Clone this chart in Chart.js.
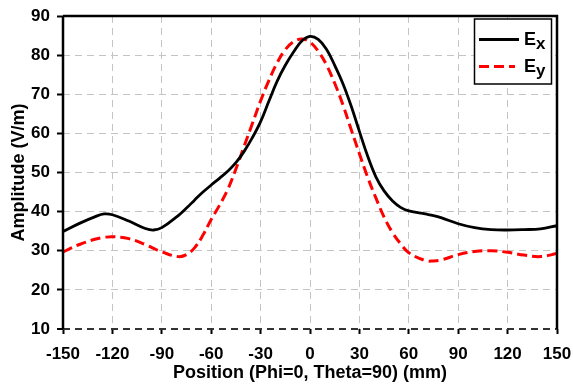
<!DOCTYPE html>
<html>
<head>
<meta charset="utf-8">
<script src="https://cdn.jsdelivr.net/npm/chart.js@4"></script>
<style>
html,body{margin:0;padding:0;background:#fff;}
#wrap{width:573px;height:384px;}
</style>
</head>
<body>
<div id="wrap"><canvas id="c" width="573" height="384"></canvas></div>
<script>
const positions = [-150,-140,-130,-125,-120,-110,-100,-95,-90,-80,-75,-70,-65,-60,-55,-50,-45,-40,-35,-30,-25,-20,-15,-10,-5,0,5,10,15,20,25,30,35,40,45,50,55,60,70,75,80,90,100,110,120,130,140,150];
const exValues = [34.9,37.0,38.8,39.4,39.2,37.6,35.7,35.3,35.9,39.0,40.9,43.0,45.0,46.8,48.5,50.3,52.5,55.4,58.9,63.0,68.2,73.3,77.4,80.8,83.6,84.8,84.0,81.5,77.4,72.7,67.0,60.5,54.2,48.9,45.3,42.8,41.1,40.2,39.4,39.0,38.4,36.9,35.9,35.4,35.3,35.4,35.6,36.4];
const eyValues = [29.7,31.6,33.0,33.4,33.6,33.1,31.6,30.6,29.7,28.5,29.0,30.8,34.0,38.0,41.6,45.6,50.9,56.7,62.5,68.3,73.5,78.0,81.4,83.4,84.1,83.3,81.0,77.5,72.8,67.3,61.0,54.8,48.8,43.5,38.6,34.7,31.8,29.5,27.5,27.4,27.7,29.0,29.8,30.0,29.6,28.9,28.5,29.3];
const seriesNames = ['Ex','Ey'];
const xTickMin = -150, xTickMax = 150, xTickStep = 30;
const yTickMin = 10, yTickMax = 90, yTickStep = 10;
const xTitle = 'Position (Phi=0, Theta=90) (mm)';
const yTitle = 'Amplitude (V/m)';

const FONT = "'Liberation Sans', Arial, sans-serif";

const framePlugin = {
  id: 'frame',
  afterDraw(chart) {
    const {ctx, chartArea: a} = chart;
    ctx.save();
    ctx.strokeStyle = '#000';
    ctx.lineWidth = 2.5;
    ctx.beginPath();
    ctx.moveTo(a.left, a.top);
    ctx.lineTo(a.right, a.top);
    ctx.lineTo(a.right, a.bottom);
    ctx.stroke();
    ctx.beginPath();
    ctx.moveTo(a.left, a.top);
    ctx.lineTo(a.left, a.bottom);
    ctx.stroke();
    // legend
    const bx = 474.5, by = 19, bw = 77, bh = 65;
    ctx.fillStyle = '#fff';
    ctx.fillRect(bx, by, bw, bh);
    ctx.lineWidth = 1.5;
    ctx.strokeStyle = '#000';
    ctx.strokeRect(bx, by, bw, bh);
    chart.data.datasets.forEach((ds, i) => {
      const ly = 39.5 + i * 27;
      ctx.save();
      ctx.strokeStyle = ds.borderColor;
      ctx.lineWidth = ds.borderWidth;
      ctx.setLineDash(ds.borderDash || []);
      ctx.beginPath();
      ctx.moveTo(479, ly);
      ctx.lineTo(i === 0 ? 519 : 515, ly);
      ctx.stroke();
      ctx.restore();
      ctx.fillStyle = '#000';
      ctx.textBaseline = 'alphabetic';
      ctx.textAlign = 'left';
      ctx.font = 'bold 18px ' + FONT;
      const main = ds.label.charAt(0), sub = ds.label.slice(1);
      ctx.fillText(main, 524, ly + 5);
      const w = ctx.measureText(main).width;
      ctx.font = 'bold 17px ' + FONT;
      ctx.fillText(sub, 524 + w, ly + 9.5);
    });
    ctx.restore();
  }
};

const ctx = document.getElementById('c').getContext('2d');
new Chart(ctx, {
  type: 'line',
  data: {
    datasets: [
      {
        label: seriesNames[0],
        data: positions.map((x, i) => ({x, y: exValues[i]})),
        borderColor: '#000',
        borderWidth: 2.8,
        pointRadius: 0,
        tension: 0.4,
        fill: false
      },
      {
        label: seriesNames[1],
        data: positions.map((x, i) => ({x, y: eyValues[i]})),
        borderColor: '#ff0000',
        borderWidth: 3,
        borderDash: [10, 5],
        pointRadius: 0,
        tension: 0.4,
        fill: false
      }
    ]
  },
  options: {
    responsive: false,
    animation: false,
    devicePixelRatio: 1,
    layout: {padding: {top: 16, right: 16, left: 0, bottom: 0}},
    plugins: {legend: {display: false}, tooltip: {enabled: false}},
    scales: {
      x: {
        type: 'linear',
        min: xTickMin, max: xTickMax,
        ticks: {stepSize: xTickStep, color: '#000', font: {family: FONT, size: 17, weight: 'bold'}, padding: 10, maxRotation: 0, autoSkip: false},
        grid: {color: '#c4c4c4', lineWidth: 1, tickLength: 5, tickColor: '#000', tickWidth: 2},
        border: {display: false, dash: [7, 5]},
        title: {display: true, text: xTitle, color: '#000', font: {family: FONT, size: 18, weight: 'bold'}, padding: {top: 0, bottom: 0}},
        afterFit(s) { s.height = 55; s.paddingLeft = 0; s.paddingRight = 0; }
      },
      y: {
        min: yTickMin, max: yTickMax,
        ticks: {stepSize: yTickStep, color: '#000', font: {family: FONT, size: 17, weight: 'bold'}, padding: 7},
        grid: {
          color: (c) => (c.tick && c.tick.value === yTickMin) ? '#333' : '#c4c4c4',
          lineWidth: (c) => (c.tick && c.tick.value === yTickMin) ? 2 : 1,
          tickLength: 6, tickColor: '#000', tickWidth: 2
        },
        border: {display: false, dash: [7, 5]},
        title: {display: true, text: yTitle, color: '#000', font: {family: FONT, size: 18, weight: 'bold'}, padding: {top: 8, bottom: 0}},
        afterFit(s) { s.width = 63; s.paddingTop = 0; s.paddingBottom = 0; }
      }
    }
  },
  plugins: [framePlugin]
});
</script>
</body>
</html>
